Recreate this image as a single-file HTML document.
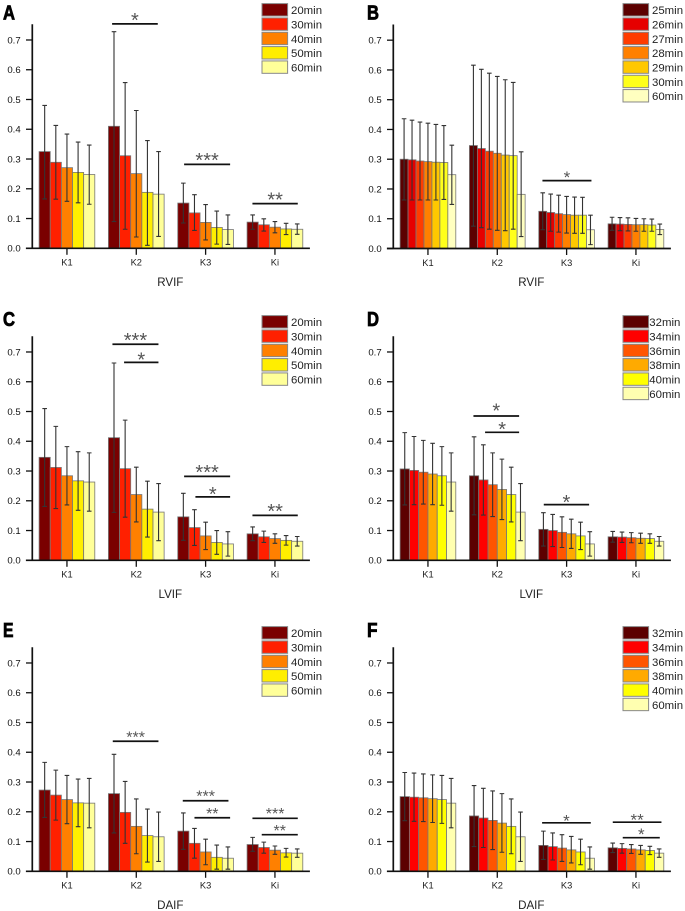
<!DOCTYPE html>
<html lang="en">
<head>
<meta charset="utf-8">
<title>Kinetic parameter bar charts</title>
<style>
html,body{margin:0;padding:0;background:#fff;}
body{width:685px;height:911px;overflow:hidden;}
svg{display:block;filter:blur(0.3px);}
text{font-family:"Liberation Sans",Arial,sans-serif;}
</style>
</head>
<body>
<svg id="figure" xmlns="http://www.w3.org/2000/svg" width="685" height="911" viewBox="0 0 685 911"></svg>
<script>
const categories = ["K1", "K2", "K3", "Ki"];
const yTickLabels = ["0.0", "0.1", "0.2", "0.3", "0.4", "0.5", "0.6", "0.7"];
const yTickValues = [0, 0.1, 0.2, 0.3, 0.4, 0.5, 0.6, 0.7];

const seriesA = ["20min", "30min", "40min", "50min", "60min"];
const meansA = [[.325,.289,.271,.255,.248],[.41,.311,.251,.188,.182],[.152,.119,.087,.07,.063],[.088,.079,.071,.065,.064]];
const highsA = [[.48,.413,.384,.357,.347],[.728,.557,.463,.362,.325],[.219,.18,.147,.125,.112],[.112,.099,.09,.084,.082]];
const lowsA = [[.166,.165,.158,.153,.148],[.09,.064,.038,.01,.04],[.085,.06,.028,.014,.013],[.064,.058,.052,.046,.047]];

const seriesB = ["25min", "26min", "27min", "28min", "29min", "30min", "60min"];
const meansB = [[.3,.298,.294,.292,.29,.289,.248],[.346,.336,.327,.32,.314,.312,.182],[.125,.121,.117,.114,.112,.112,.063],[.083,.082,.081,.08,.08,.079,.064]];
const highsB = [[.436,.431,.425,.421,.417,.413,.347],[.616,.602,.589,.578,.567,.558,.325],[.187,.183,.179,.175,.173,.172,.112],[.105,.104,.103,.101,.1,.099,.082]];
const lowsB = [[.163,.163,.163,.163,.163,.165,.148],[.075,.07,.065,.061,.06,.065,.04],[.063,.058,.055,.052,.051,.051,.013],[.061,.06,.059,.058,.058,.058,.047]];

const seriesC = ["20min", "30min", "40min", "50min", "60min"];
const meansC = [[.346,.312,.284,.267,.263],[.412,.308,.221,.172,.162],[.146,.11,.082,.06,.055],[.089,.079,.073,.067,.064]];
const highsC = [[.51,.45,.382,.365,.361],[.663,.471,.313,.266,.258],[.225,.17,.128,.1,.096],[.112,.098,.089,.083,.08]];
const lowsC = [[.181,.174,.186,.168,.165],[.161,.145,.129,.078,.066],[.067,.05,.036,.02,.014],[.066,.06,.057,.051,.048]];

const seriesD = ["32min", "34min", "36min", "38min", "40min", "60min"];
const meansD = [[.307,.302,.296,.29,.284,.263],[.284,.27,.254,.238,.221,.162],[.104,.1,.094,.089,.082,.055],[.079,.078,.076,.074,.073,.064]];
const highsD = [[.429,.416,.403,.393,.382,.361],[.415,.388,.361,.34,.313,.258],[.16,.154,.146,.138,.128,.096],[.097,.095,.093,.091,.089,.08]];
const lowsD = [[.186,.187,.189,.187,.185,.165],[.153,.152,.147,.137,.129,.066],[.048,.046,.043,.04,.036,.014],[.061,.06,.059,.057,.057,.048]];

const seriesE = ["20min", "30min", "40min", "50min", "60min"];
const meansE = [[.273,.256,.241,.23,.229],[.261,.198,.151,.12,.116],[.135,.094,.065,.047,.044],[.09,.08,.071,.062,.061]];
const highsE = [[.366,.34,.322,.31,.312],[.393,.302,.243,.209,.199],[.196,.144,.108,.088,.082],[.114,.098,.085,.077,.075]];
const lowsE = [[.181,.172,.16,.15,.146],[.129,.094,.059,.031,.033],[.074,.044,.022,.007,.007],[.067,.061,.057,.048,.047]];

const seriesF = ["32min", "34min", "36min", "38min", "40min", "60min"];
const meansF = [[.251,.249,.247,.244,.241,.229],[.186,.179,.171,.162,.151,.116],[.087,.083,.078,.072,.065,.044],[.079,.077,.075,.072,.07,.061]];
const highsF = [[.332,.33,.327,.324,.322,.312],[.288,.279,.27,.261,.243,.199],[.135,.129,.123,.117,.108,.082],[.095,.093,.09,.087,.084,.075]];
const lowsF = [[.17,.168,.167,.164,.161,.146],[.083,.08,.073,.064,.059,.033],[.04,.038,.033,.028,.022,.007],[.063,.061,.06,.057,.056,.047]];

const NS = "http://www.w3.org/2000/svg";
const figure = document.getElementById("figure");

const colors5 = ["#7a0000", "#ff2000", "#ff8000", "#ffee00", "#ffff99"];
const colors6 = ["#5c0000", "#ff0000", "#ff5500", "#ffaa00", "#ffff00", "#ffffb0"];
const colors7 = ["#5c0000", "#e60000", "#ff3c00", "#ff8000", "#ffc800", "#ffff1a", "#ffffc0"];

const panels = [
  { id: "a", letter: "A", title: "RVIF", axisX: 32.3, y0: 248.3, letterX: 3, letterY: 19.5, legendY: 3.3, labelX: 291, series: seriesA, means: meansA, highs: highsA, lows: lowsA, colors: colors5,
    sig: [[1,.066,.886,.754,1,20,8.3],[2,.114,.94,.282,3,20,8.6],[3,.096,.91,.15,2,20,8.6]] },
  { id: "b", letter: "B", title: "RVIF", axisX: 393.3, y0: 248.5, letterX: 367, letterY: 19.5, legendY: 3.3, labelX: 652, series: seriesB, means: meansB, highs: highsB, lows: lowsB, colors: colors7,
    sig: [[2,.066,.946,.228,1,17,7]] },
  { id: "c", letter: "C", title: "LVIF", axisX: 32.3, y0: 560.3, letterX: 3, letterY: 326, legendY: 315.3, labelX: 291, series: seriesC, means: meansC, highs: highsC, lows: lowsC, colors: colors5,
    sig: [[1,.072,.898,.726,3,20,8.3],[1,.281,.898,.665,1,20,7],[2,.114,.94,.282,3,20,8.6],[2,.317,.94,.213,1,20,7],[3,.096,.91,.151,2,20,8.6]] },
  { id: "d", letter: "D", title: "LVIF", axisX: 393.3, y0: 560.3, letterX: 367, letterY: 326, legendY: 315.3, labelX: 649.3, series: seriesD, means: meansD, highs: highsD, lows: lowsD, colors: colors6,
    sig: [[1,.072,.892,.485,1,20,9.6],[1,.281,.892,.43,1,20,7.5],[2,.09,.904,.187,1,20,7]] },
  { id: "e", letter: "E", title: "DAIF", axisX: 32.3, y0: 871.3, letterX: 3, letterY: 637, legendY: 626.3, labelX: 291, series: seriesE, means: meansE, highs: highsE, lows: lowsE, colors: colors5,
    sig: [[1,.078,.898,.437,3,16,7.6],[2,.09,.91,.237,3,16,8.3],[2,.3,.94,.18,2,16,7.6],[3,.096,.91,.178,3,16,8.3],[3,.263,.91,.123,2,16,7.6]] },
  { id: "f", letter: "F", title: "DAIF", axisX: 393.3, y0: 871.3, letterX: 367, letterY: 637, legendY: 626.3, labelX: 652, series: seriesF, means: meansF, highs: highsF, lows: lowsF, colors: colors6,
    sig: [[2,.06,.934,.163,1,17,6],[3,.084,.958,.165,2,17,6],[3,.263,.928,.113,1,17,7.3]] }
];

function make(tag, attrs, parent, content) {
  const node = document.createElementNS(NS, tag);
  for (const key in attrs) node.setAttribute(key, attrs[key]);
  if (content !== undefined) node.textContent = content;
  parent.appendChild(node);
  return node;
}

function drawPanel(p) {
  const PX_PER_UNIT = 297.6;
  const yScale = v => p.y0 - v * PX_PER_UNIT;
  const groupW = 55.7;
  const groupPitch = 69.33;
  const firstGroupX = p.axisX + 6.8;
  const groupX = g => firstGroupX + g * groupPitch;
  const barW = groupW / p.series.length;

  const g = make("g", {}, figure);
  
  

  const letter = make("text", { x: p.letterX, y: p.letterY, "font-size": 20, "font-weight": "bold", fill: "#000", stroke: "#000", "stroke-width": 0.8, textLength: p.letter === "E" || p.letter === "F" ? 10.5 : 12, lengthAdjust: "spacingAndGlyphs" }, g, p.letter);
  
  

  // bars
  p.means.forEach((groupVals, gi) => {
    groupVals.forEach((v, si) => {
      const top = yScale(v);
      const bar = make("rect", { x: groupX(gi) + si * barW, y: top, width: barW, height: p.y0 - top, fill: p.colors[si], stroke: "#777", "stroke-width": 0.8 }, g);
      
      
    });
  });

  // error bars
  p.means.forEach((groupVals, gi) => {
    groupVals.forEach((v, si) => {
      const cx = groupX(gi) + (si + 0.5) * barW;
      const err = make("path", { d: "M" + cx + " " + yScale(p.lows[gi][si]) + "V" + yScale(p.highs[gi][si]) + "M" + (cx - 2.3) + " " + yScale(p.highs[gi][si]) + "h4.6M" + (cx - 2.3) + " " + yScale(p.lows[gi][si]) + "h4.6", fill: "none", stroke: "#333", "stroke-width": 1.1 }, g);
      
      
    });
  });

  // y axis
  const yAxis = make("line", { x1: p.axisX, x2: p.axisX, y1: p.y0 - 224, y2: p.y0, stroke: "#111", "stroke-width": 1.7 }, g);
  
  
  yTickValues.forEach((v, i) => {
    const y = yScale(v);
    const tick = make("line", { x1: p.axisX - 6.3, x2: p.axisX, y1: y, y2: y, stroke: "#111", "stroke-width": 1.3 }, g);
    
    
    const lab = make("text", { x: p.axisX - 11.6, y: y + 3.4, "font-size": 9.6, "text-anchor": "end", fill: "#111" }, g, yTickLabels[i]);
    
    
  });

  // x axis
  const xAxis = make("line", { x1: p.axisX - 6.4, x2: p.axisX + 277.6, y1: p.y0, y2: p.y0, stroke: "#111", "stroke-width": 1.7 }, g);
  
  
  categories.forEach((c, gi) => {
    const cx = groupX(gi) + groupW / 2;
    const tick = make("line", { x1: cx, x2: cx, y1: p.y0, y2: p.y0 + 6.5, stroke: "#111", "stroke-width": 1.3 }, g);
    
    
    const lab = make("text", { x: cx, y: p.y0 + 17.3, "font-size": 9.3, "text-anchor": "middle", fill: "#222" }, g, c);
    
    
  });
  const xTitle = make("text", { x: p.axisX + 138, y: p.y0 + 37.5, "font-size": 11.6, "text-anchor": "middle", fill: "#222" }, g, p.title);
  
  

  // significance brackets
  p.sig.forEach(s => {
    const x1 = groupX(s[0]) + s[1] * groupW;
    const x2 = groupX(s[0]) + s[2] * groupW;
    const y = yScale(s[3]);
    const line = make("line", { x1: x1, x2: x2, y1: y, y2: y, stroke: "#111", "stroke-width": 1.7 }, g);
    
    
    const stars = make("text", { x: (x1 + x2) / 2, y: y - s[6] + s[5] * 0.56, "font-size": s[5], "text-anchor": "middle", fill: "#555" }, g, "*".repeat(s[4]));
    
    
  });

  // legend
  const swatchX = p.axisX + 229.7;
  p.series.forEach((name, i) => {
    const y = p.legendY + i * 14.33;
    const sw = make("rect", { x: swatchX, y: y + 0.3, width: 25.6, height: 12.4, fill: p.colors[i], stroke: "#888", "stroke-width": 1 }, g);
    
    
    const t = make("text", { x: p.labelX, y: y + 10.9, "font-size": 11.4, fill: "#222" }, g, name);
    
    
  });
}

panels.forEach(drawPanel);
</script>
</body>
</html>
